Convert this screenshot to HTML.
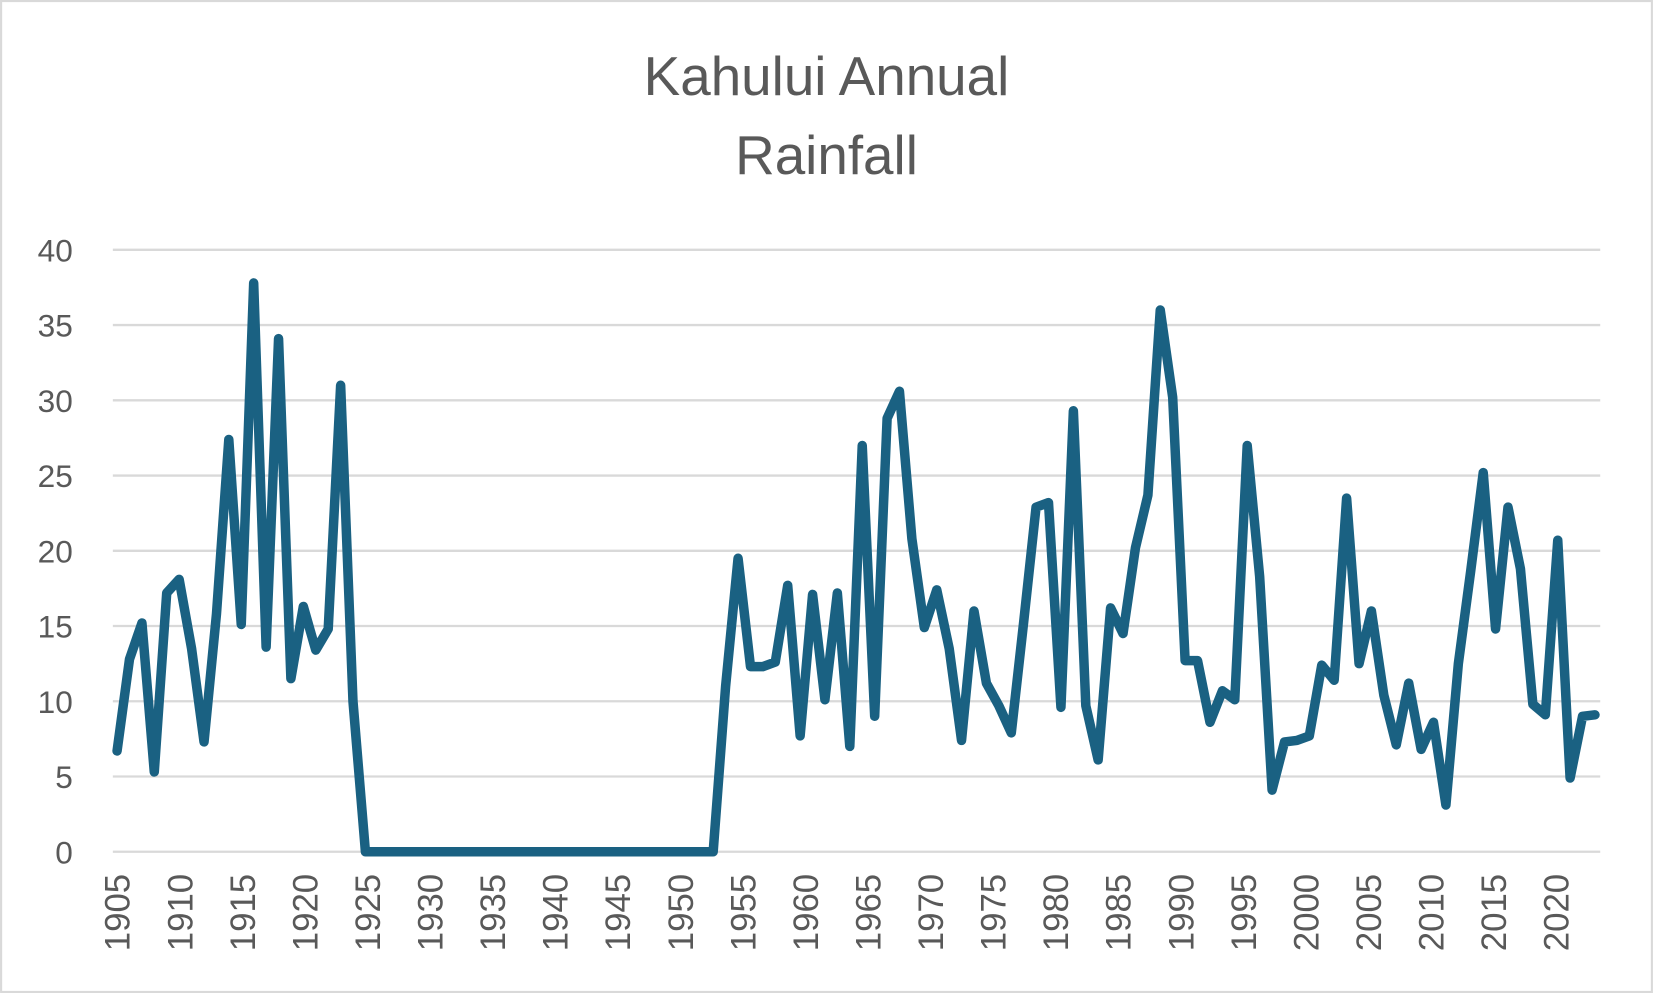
<!DOCTYPE html>
<html><head><meta charset="utf-8"><style>
html,body{margin:0;padding:0;background:#fff;}
svg{display:block;}
</style></head><body>
<svg id="c" width="1653" height="993" viewBox="0 0 1568 942" xmlns="http://www.w3.org/2000/svg" font-family="Liberation Sans, sans-serif">
<rect x="1" y="1" width="1566" height="940" fill="#fff" stroke="#d9d9d9" stroke-width="2"/>
<text x="784" y="90" text-anchor="middle" font-size="52" fill="#595959">Kahului Annual</text>
<text x="784" y="165" text-anchor="middle" font-size="52" fill="#595959">Rainfall</text>
<g id="grid" stroke="#d9d9d9" stroke-width="2.2"></g>
<g id="ylab" font-size="30" fill="#595959" text-anchor="end"></g>
<g id="xlab" font-size="33" fill="#595959" text-anchor="end"></g>
<polyline id="ln" fill="none" stroke="#1a6182" stroke-width="9" stroke-linejoin="round" stroke-linecap="round"/>
</svg>
<script>
var d=[6.7,12.8,15.2,5.3,17.2,18.1,13.5,7.3,15.8,27.4,15.1,37.8,13.6,34.1,11.5,16.3,13.4,14.8,31,10,
0,0,0,0,0,0,0,0,0,0,0,0,0,0,0,0,0,0,0,0,0,0,0,0,0,0,0,0,0,
11,19.5,12.3,12.3,12.6,17.7,7.7,17.1,10.1,17.2,7,27,9,28.8,30.6,20.8,14.9,17.4,13.5,7.4,16,11.2,9.7,7.9,15.3,22.9,23.2,9.6,29.3,9.7,6.1,16.2,14.5,20.2,23.7,36,30.2,12.7,12.7,8.6,10.7,10.1,27,18.3,4.1,7.3,7.4,7.7,12.4,11.4,23.5,12.5,16,10.4,7.1,11.2,6.8,8.6,3.1,12.5,18.7,25.2,14.8,22.9,18.8,9.8,9.1,20.7,4.9,9,9.1];
var ns="http://www.w3.org/2000/svg";
var x0=111,dx=(1513-111)/119,y0=808,yk=(808-237)/40;
var pts=d.map(function(v,i){return (x0+i*dx).toFixed(1)+","+(y0-v*yk).toFixed(1)}).join(" ");
document.getElementById("ln").setAttribute("points",pts);
var g=document.getElementById("grid"),yl=document.getElementById("ylab"),xl=document.getElementById("xlab");
for(var v=0;v<=40;v+=5){var y=y0-v*yk;var l=document.createElementNS(ns,"line");
l.setAttribute("x1",107);l.setAttribute("x2",1518);l.setAttribute("y1",y);l.setAttribute("y2",y);g.appendChild(l);
var t=document.createElementNS(ns,"text");t.setAttribute("x",69);t.setAttribute("y",y+11);t.textContent=v;yl.appendChild(t);}
for(var yr=1905;yr<=2020;yr+=5){var i=yr-1905;var x=x0+i*11.87+12;var t=document.createElementNS(ns,"text");
t.setAttribute("transform","translate("+x+",829) rotate(-90)");t.textContent=yr;xl.appendChild(t);}
</script>
</body></html>
